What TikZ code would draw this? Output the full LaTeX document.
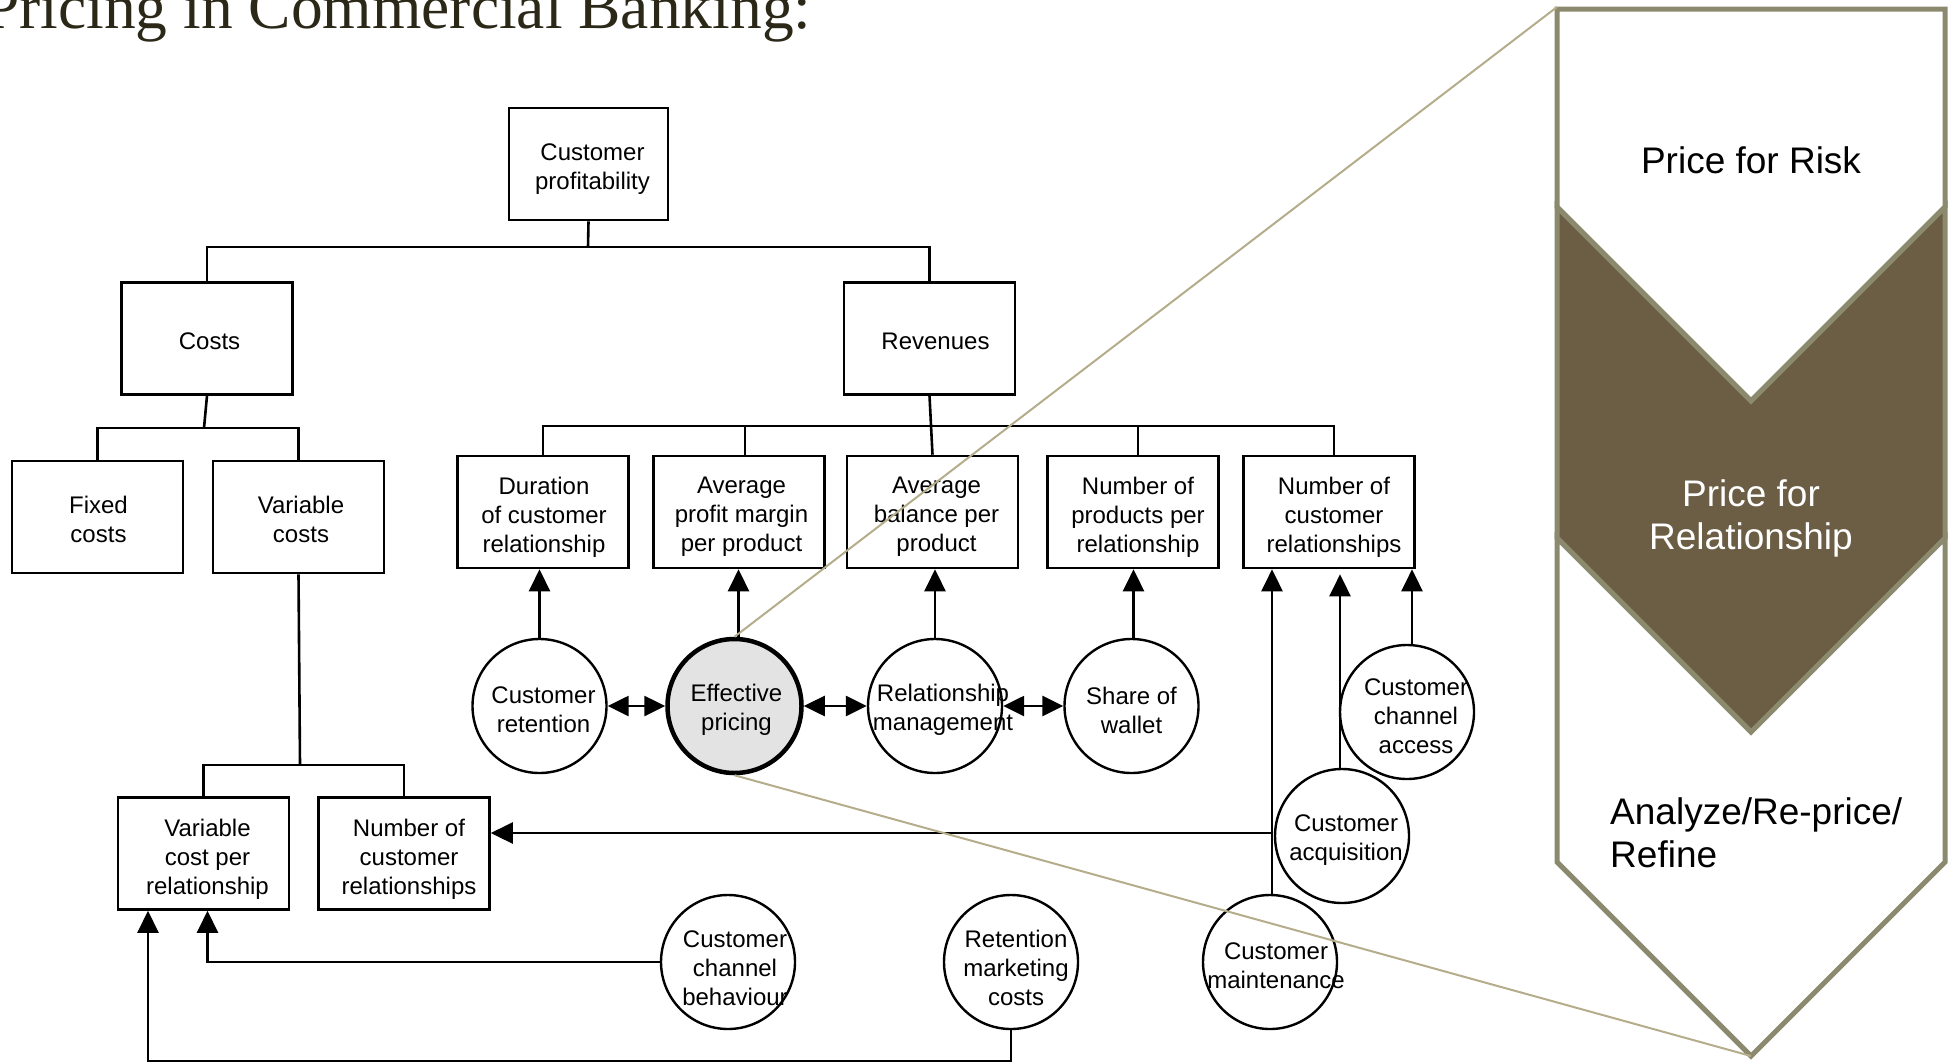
\documentclass[tikz,border=0pt]{standalone}
\usepackage{fontspec}
\setmainfont{Liberation Sans}
\newfontfamily\titleserif{Liberation Serif}
\usetikzlibrary{arrows.meta}
\definecolor{chevedge}{HTML}{8C8A6E}
\definecolor{chevdark}{HTML}{6B5E44}
\definecolor{zoomtan}{HTML}{B4AC8A}
\definecolor{titleink}{HTML}{2B2818}
\definecolor{pricefill}{HTML}{E3E3E3}
\newcommand\diagfont{\fontsize{24}{29}\selectfont}
\newcommand\chevfont{\fontsize{37}{43}\selectfont}

\begin{document}
\begin{tikzpicture}[x=1pt,y=-1pt,
  box/.style={draw, line width=2.6pt, minimum width=171pt, minimum height=112pt, inner sep=0pt},
  circ/.style={draw, circle, line width=2.4pt, minimum size=134pt, inner sep=0pt},
  ctext/.style={align=center, inner sep=0pt, font=\diagfont},
  link/.style={line width=2.6pt},
  arr/.style={line width=2.6pt, -{Triangle[length=22pt,width=21pt]}},
  darr/.style={line width=2.6pt, {Triangle[length=21pt,width=20pt]}-{Triangle[length=21pt,width=20pt]}},
  zoomline/.style={draw=zoomtan, line width=2pt},
  chev/.style={draw=chevedge, line width=5pt, line join=miter},
  chevtext/.style={font=\chevfont, align=center, inner sep=0pt}]
\useasboundingbox (0,0) rectangle (1953,1063);

% title
\node[anchor=base west, inner sep=0pt, text=titleink,
  font={\titleserif\fontsize{63.5}{70}\selectfont}] (title) at (-16,28) {Pricing in Commercial Banking:};

% profitability tree: boxes
\node[box, minimum width=159pt] (cp) at (588.5,164) {};
\node[box] (costs) at (207,338.5) {};
\node[box] (rev) at (929.5,338.5) {};
\node[box] (fixed) at (97.5,517) {};
\node[box] (varc) at (298.5,517) {};
\node[box] (vcpr) at (203.5,853.5) {};
\node[box] (ncrl) at (404,853.5) {};
\node[box] (dur) at (543,512) {};
\node[box] (apm) at (739,512) {};
\node[box] (abp) at (932.5,512) {};
\node[box] (npr) at (1133,512) {};
\node[box] (ncrr) at (1329,512) {};

% profitability tree: box labels
\node[ctext] (cp-t) at ([xshift=4pt,yshift=-5.5pt]cp) {Customer\\profitability};
\node[ctext] (costs-t) at ([xshift=2.5pt,yshift=-3pt]costs) {Costs};
\node[ctext] (rev-t) at ([xshift=6pt,yshift=-3pt]rev) {Revenues};
\node[ctext] (fixed-t) at ([xshift=1pt,yshift=-2.5pt]fixed) {Fixed\\costs};
\node[ctext] (varc-t) at ([xshift=2.5pt,yshift=-2.5pt]varc) {Variable\\costs};
\node[ctext] (vcpr-t) at ([xshift=4pt,yshift=-6pt]vcpr) {Variable\\cost per\\relationship};
\node[ctext] (ncrl-t) at ([xshift=5pt,yshift=-6pt]ncrl) {Number of\\customer\\relationships};
\node[ctext] (dur-t) at ([xshift=1pt,yshift=-5pt]dur) {Duration\\of customer\\relationship};
\node[ctext] (apm-t) at ([xshift=2.5pt,yshift=-5pt]apm) {Average\\profit margin\\per product};
\node[ctext] (abp-t) at ([xshift=4pt,yshift=-5pt]abp) {Average\\balance per\\product};
\node[ctext] (npr-t) at ([xshift=5pt,yshift=-5pt]npr) {Number of\\products per\\relationship};
\node[ctext] (ncrr-t) at ([xshift=5pt,yshift=-5pt]ncrr) {Number of\\customer\\relationships};

% driver circles and their labels
\node[circ] (cr) at (539.5,706) {};
\node[circ, fill=pricefill, line width=4.5pt] (ep) at (734.5,706) {};
\node[circ] (rm) at (935,706) {};
\node[circ] (sw) at (1131.5,706) {};
\node[circ] (cca) at (1407,712) {};
\node[circ] (ca) at (1342,836) {};
\node[circ] (cm) at (1270,962) {};
\node[circ] (ccb) at (728,962) {};
\node[circ] (rmc) at (1011,962) {};
\node[ctext] (cr-t) at ([xshift=4pt,yshift=-4pt]cr) {Customer\\retention};
\node[ctext] (ep-t) at ([xshift=2pt,yshift=-4pt]ep) {Effective\\pricing};
\node[ctext] (rm-t) at ([xshift=8pt,yshift=-4pt]rm) {Relationship\\management};
\node[ctext] (sw-t) at ([xshift=0pt,yshift=-4pt]sw) {Share of\\wallet};
\node[ctext] (cca-t) at ([xshift=9pt,yshift=-4pt]cca) {Customer\\channel\\access};
\node[ctext] (ca-t) at ([xshift=4pt,yshift=-4pt]ca) {Customer\\acquisition};
\node[ctext] (cm-t) at ([xshift=6pt,yshift=-4pt]cm) {Customer\\maintenance};
\node[ctext] (ccb-t) at ([xshift=7pt,yshift=-6pt]ccb) {Customer\\channel\\behaviour};
\node[ctext] (rmc-t) at ([xshift=5pt,yshift=-6pt]rmc) {Retention\\marketing\\costs};

% tree buses
\coordinate (bus1) at (588,247);
\coordinate (bus2) at (204,428);
\coordinate (bus3) at (300,765);
\coordinate (bus4) at (933,426);
\draw[link] (cp.south) -- (bus1);
\draw[link] (costs.north) |- (bus1) -| (rev.north);
\draw[link] (costs.south) -- (bus2);
\draw[link] (fixed.north) |- (bus2) -| (varc.north);
\draw[link] (varc.south) -- (bus3);
\draw[link] (vcpr.north) |- (bus3) -| (ncrl.north);
\draw[link] (rev.south) -- (abp.north);
\draw[link] (dur.north) |- (bus4) -| ([xshift=5pt]ncrr.north);
\draw[link] ([xshift=6pt]apm.north) -- ([xshift=6pt]apm.north |- bus4);
\draw[link] ([xshift=5pt]npr.north) -- ([xshift=5pt]npr.north |- bus4);

% drivers into revenue factors
\draw[arr] (cr.north) -- (cr.north |- dur.south);
\draw[arr] ([xshift=4pt]ep.north) -- ([xshift=4pt]ep.north |- apm.south);
\draw[arr] (rm.north) -- (rm.north |- abp.south);
\draw[arr] ([xshift=2pt]sw.north) -- ([xshift=2pt]sw.north |- npr.south);
\draw[darr] (cr.east) -- (ep.west);
\draw[darr] (ep.east) -- (rm.west);
\draw[darr] (rm.east) -- (sw.west);

% drivers into number of relationships
\draw[arr] ([xshift=2pt]cm.north) -- ([xshift=2pt]cm.north |- ncrr.south);
\draw[arr] ([xshift=-2pt]ca.north) -- ([xshift=-2pt,yshift=-5pt]ca.north |- ncrr.south);
\draw[arr] ([xshift=5pt]cca.north) -- ([xshift=5pt]cca.north |- ncrr.south);
\coordinate (acq) at (1272,833);
\draw[arr] (acq) -- (ncrl.east |- acq);

% drivers into cost per relationship
\coordinate (rb) at (148,1061);
\draw[arr] (ccb.west) -| ([xshift=4pt]vcpr.south);
\draw[arr] (rmc.south) |- (rb) -- (rb |- vcpr.south);

% pricing process chevrons
\filldraw[chev, fill=white] (1557,9) -- (1945,9) -- (1945,207) -- (1751,401) -- (1557,207) -- cycle;
\filldraw[chev, fill=chevdark] (1557,207) -- (1751,401) -- (1945,207) -- (1945,538) -- (1751,732) -- (1557,538) -- cycle;
\filldraw[chev, fill=white] (1557,538) -- (1751,732) -- (1945,538) -- (1945,862) -- (1751,1056) -- (1557,862) -- cycle;
\node[chevtext] (risk) at (1751,160) {Price for Risk};
\node[chevtext, text=white] (relp) at (1751,518) {Price for\\Relationship};
\node[chevtext, align=left, anchor=west] (refine) at (1610,833) {Analyze/Re-price/\\Refine};

% magnification lines from the pricing driver
\coordinate (chevtop) at (1557,7);
\coordinate (chevtip) at (1751,1056);
\draw[zoomline] (ep.north) -- (chevtop);
\draw[zoomline] (ep.south) -- (chevtip);
\end{tikzpicture}
\end{document}
